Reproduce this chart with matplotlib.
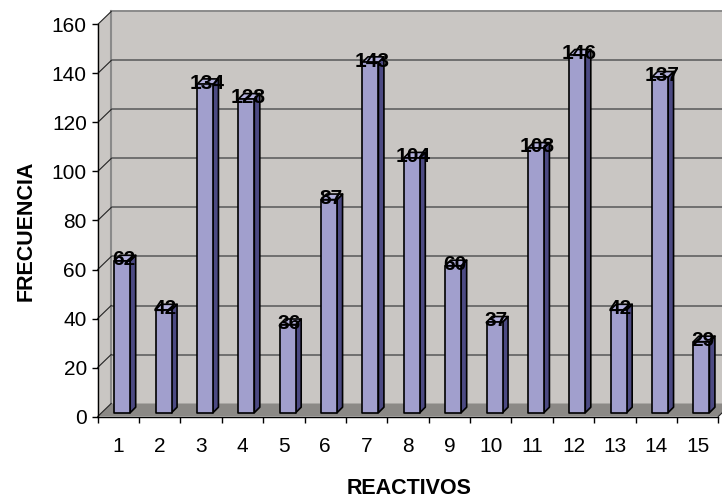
import matplotlib
matplotlib.use("Agg")
import matplotlib.pyplot as plt
from matplotlib.patches import Polygon
from matplotlib.ticker import FixedLocator, NullFormatter

plt.rcParams['font.family'] = ['Liberation Sans', 'DejaVu Sans']

# Data
reactivos = list(range(1, 16))
frecuencia = [62, 42, 134, 128, 36, 87, 143, 104, 60, 37, 108, 146, 42, 137, 29]
y_ticks = [0, 20, 40, 60, 80, 100, 120, 140, 160]
x_label = "REACTIVOS"
y_label = "FRECUENCIA"

# Colours
WALL = "#c9c6c3"
FLOOR = "#8b8986"
GRID = "#6f6f6f"
FRONT = "#a19fcd"
SIDE = "#4c4a83"
TOP = "#b4b2de"

DPI = 100
W_PX, H_PX = 722, 500
fig = plt.figure(figsize=(W_PX / DPI, H_PX / DPI), dpi=DPI)

# front plane of the 3-D box (pixel layout)
left_px, right_px, bottom_px, top_px = 97.7, 718.3, 416.5, 24.5
ax = fig.add_axes([left_px / W_PX, 1 - bottom_px / H_PX,
                   (right_px - left_px) / W_PX, (bottom_px - top_px) / H_PX])
ax.patch.set_visible(False)

xmin, xmax = 0.5, len(reactivos) + 0.5
ymin, ymax = y_ticks[0], y_ticks[-1]
ax.set_xlim(xmin, xmax)
ax.set_ylim(ymin, ymax)

# pixel -> data unit conversion for depth offsets
ppx = (right_px - left_px) / (xmax - xmin)
ppy = (bottom_px - top_px) / (ymax - ymin)


def shift(x, y, dx_px, dy_px):
    return (x + dx_px / ppx, y + dy_px / ppy)


WALL_DX, WALL_DY = 13.5, 13.0

# back wall
back = [shift(xmin, ymin, WALL_DX, WALL_DY), shift(xmax + 1, ymin, WALL_DX, WALL_DY),
        shift(xmax + 1, ymax, WALL_DX, WALL_DY), shift(xmin, ymax, WALL_DX, WALL_DY)]
ax.add_patch(Polygon(back, closed=True, facecolor=WALL, edgecolor="none",
                     clip_on=False, zorder=0))
# left side wall
side_wall = [(xmin, ymin), (xmin, ymax), shift(xmin, ymax, WALL_DX, WALL_DY),
             shift(xmin, ymin, WALL_DX, WALL_DY)]
ax.add_patch(Polygon(side_wall, closed=True, facecolor=WALL, edgecolor="none",
                     clip_on=False, zorder=0.5))
# floor
floor = [(xmin, ymin), (xmax, ymin), shift(xmax, ymin, WALL_DX, WALL_DY),
         shift(xmin, ymin, WALL_DX, WALL_DY)]
ax.add_patch(Polygon(floor, closed=True, facecolor=FLOOR, edgecolor="none",
                     clip_on=False, zorder=1))

# back wall left edge
bx0, by0 = shift(xmin, ymin, WALL_DX, WALL_DY)
bx1, by1 = shift(xmax + 1, ymax, WALL_DX, WALL_DY)
ax.plot([bx0, bx0], [by0, by1], color="#8a8a8a", lw=1.5, clip_on=False, zorder=1.5)

# gridlines on back wall and diagonals on side wall
for v in y_ticks[1:]:
    gx0, gy = shift(xmin, v, WALL_DX, WALL_DY)
    gx1, _ = shift(xmax + 1, v, WALL_DX, WALL_DY)
    ax.plot([gx0, gx1], [gy, gy], color=GRID if v < ymax else "#8a8a8a",
            lw=1.4, clip_on=False, zorder=1.6, solid_capstyle="butt")
for v in y_ticks:
    dx_, dy_ = shift(xmin, v, WALL_DX, WALL_DY)
    ax.plot([xmin, dx_], [v, dy_], color="#222222", lw=0.8, clip_on=False, zorder=1.7)
# floor right corner diagonal
fx, fy = shift(xmax, ymin, WALL_DX, WALL_DY)
ax.plot([xmax, fx], [ymin, fy], color="#222222", lw=0.8, clip_on=False, zorder=1.7)

# bars
bar_w = 16.0 / ppx
D1, D2 = 3.8, 9.3
for c, v in zip(reactivos, frecuencia):
    xl, xr = c - bar_w / 2, c + bar_w / 2
    front = [shift(xl, 0, D1, D1), shift(xr, 0, D1, D1),
             shift(xr, v, D1, D1), shift(xl, v, D1, D1)]
    side = [shift(xr, 0, D1, D1), shift(xr, 0, D2, D2),
            shift(xr, v, D2, D2), shift(xr, v, D1, D1)]
    top = [shift(xl, v, D1, D1), shift(xr, v, D1, D1),
           shift(xr, v, D2, D2), shift(xl, v, D2, D2)]
    for poly, col in ((side, SIDE), (top, TOP), (front, FRONT)):
        ax.add_patch(Polygon(poly, closed=True, facecolor=col, edgecolor="black",
                             lw=1.2, joinstyle="round", clip_on=False, zorder=3))
    ax.annotate(str(v), xy=(c, v), xytext=(5.5, -0.5), textcoords="offset pixels",
                ha="center", va="baseline", fontsize=15, fontweight="bold",
                color="black", zorder=5, annotation_clip=False)

# axes
for s in ("top", "right"):
    ax.spines[s].set_visible(False)
for s in ("left", "bottom"):
    ax.spines[s].set_color("black")
    ax.spines[s].set_linewidth(1.0)
    ax.spines[s].set_zorder(4)

ax.yaxis.set_major_locator(FixedLocator(y_ticks))
ax.tick_params(axis="y", which="major", direction="out", length=4.3, width=1,
               labelsize=15, pad=3.5)

ax.xaxis.set_major_locator(FixedLocator([i + 0.5 for i in range(0, len(reactivos) + 1)]))
ax.xaxis.set_major_formatter(NullFormatter())
ax.set_xticks(reactivos, minor=True)
ax.set_xticklabels([str(r) for r in reactivos], minor=True)
ax.tick_params(axis="x", which="major", direction="out", length=4.5, width=1)
ax.tick_params(axis="x", which="minor", length=0, labelsize=15, pad=15)

fig.text(409 / W_PX, 1 - 489 / H_PX, x_label, ha="center", va="center",
         fontsize=15.5, fontweight="bold")
fig.text(26 / W_PX, 1 - 231 / H_PX, y_label, ha="center", va="center",
         rotation=90, fontsize=15.5, fontweight="bold")

fig.savefig("out.png", dpi=DPI, facecolor="white")
